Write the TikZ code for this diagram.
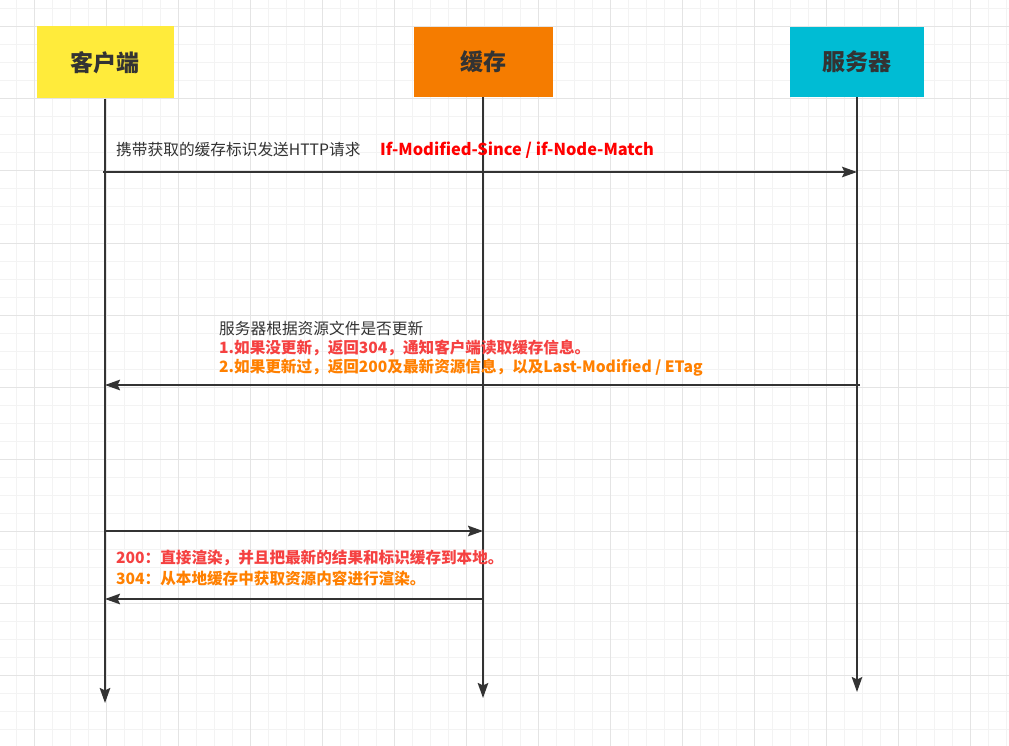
\documentclass[tikz,border=0pt]{standalone}
\usepackage{fontspec}
\setmainfont{Noto Sans CJK SC}
\usetikzlibrary{arrows.meta}

\definecolor{gridminor}{HTML}{F3F3F3}
\definecolor{gridmajor}{HTML}{E4E4E4}
\definecolor{ink}{HTML}{333333}
\definecolor{clientyellow}{HTML}{FFEB3B}
\definecolor{cacheorange}{HTML}{F57C00}
\definecolor{servercyan}{HTML}{00BCD4}
\definecolor{hdrred}{HTML}{FF0000}
\definecolor{notered}{HTML}{F54141}
\definecolor{noteorange}{HTML}{FF8000}

\tikzset{
  lifebox/.style={inner sep=0pt, minimum height=72pt, text=ink,
    font=\fontsize{23}{28}\selectfont\bfseries},
  lifeline/.style={draw=ink, line width=2pt, -{Stealth[length=15pt, width=10.5pt, inset=2.5pt]}},
  msg/.style={draw=ink, line width=2pt, -{Stealth[length=15pt, width=10.5pt, inset=2.5pt]}},
  note/.style={anchor=base west, inner sep=0pt, text=ink,
    font=\fontsize{15.7}{19}\selectfont},
  boldnote/.style={note, font=\fontsize{15.6}{19}\selectfont\bfseries},
}

\begin{document}
\begin{tikzpicture}[x=1pt, y=-1pt]
  \useasboundingbox (0,0) rectangle (1009,746);
  \fill[white] (0,0) rectangle (1009,746);

  % grid
  \foreach \x in {16,34,...,1008} {
    \draw[gridminor, line width=1pt] (\x,0) -- (\x,746);
  }
  \foreach \y in {9,27,...,745} {
    \draw[gridminor, line width=1pt] (0,\y) -- (1009,\y);
  }
  \foreach \x in {34,106,...,1008} {
    \draw[gridmajor, line width=1pt] (\x,0) -- (\x,746);
  }
  \foreach \y in {27,99,...,745} {
    \draw[gridmajor, line width=1pt] (0,\y) -- (1009,\y);
  }

  \node[lifebox, fill=clientyellow, minimum width=137pt] (client) at (105,62.5) {客户端};
  \node[lifebox, fill=cacheorange, minimum width=139pt, minimum height=70pt] (cache) at (483,62) {缓存};
  \node[lifebox, fill=servercyan, minimum width=134pt, minimum height=70pt] (server) at (857,62) {服务器};

  \coordinate (client-end) at (105,703);
  \coordinate (cache-end) at (483,698);
  \coordinate (server-end) at (857,692);

  \draw[lifeline] (client.south) -- (client-end);
  \draw[lifeline] (cache.south) -- (cache-end);
  \draw[lifeline] (server.south) -- (server-end);

  % request
  \coordinate (req-from) at (103,172);
  \coordinate (req-to) at (857,172);
  \draw[msg] (req-from) -- (req-to);
  \node[note] (req-label) at (116,156) {携带获取的缓存标识发送HTTP请求};
  \node[boldnote, text=hdrred, font=\fontsize{16.4}{19}\selectfont\bfseries] (req-header) at (380,156) {If-Modified-Since / if-Node-Match};

  % response
  \coordinate (res-from) at (860,385);
  \coordinate (res-to) at (105,385);
  \draw[msg] (res-from) -- (res-to);
  \node[note] (res-label) at (219,334) {服务器根据资源文件是否更新};
  \node[boldnote, text=notered] (res-304) at (219,353) {1.如果没更新，返回304，通知客户端读取缓存信息。};
  \node[boldnote, text=noteorange] (res-200) at (219,372) {2.如果更新过，返回200及最新资源信息，以及Last-Modified / ETag};

  % cache
  \coordinate (save-from) at (105,531);
  \coordinate (save-to) at (483,531);
  \draw[msg] (save-from) -- (save-to);

  \coordinate (render-from) at (483,599);
  \coordinate (render-to) at (105,599);
  \draw[msg] (render-from) -- (render-to);
  \node[boldnote, text=notered] (render-200) at (116,563) {200：直接渲染，并且把最新的结果和标识缓存到本地。};
  \node[boldnote, text=noteorange] (render-304) at (116,584) {304：从本地缓存中获取资源内容进行渲染。};
\end{tikzpicture}
\end{document}
